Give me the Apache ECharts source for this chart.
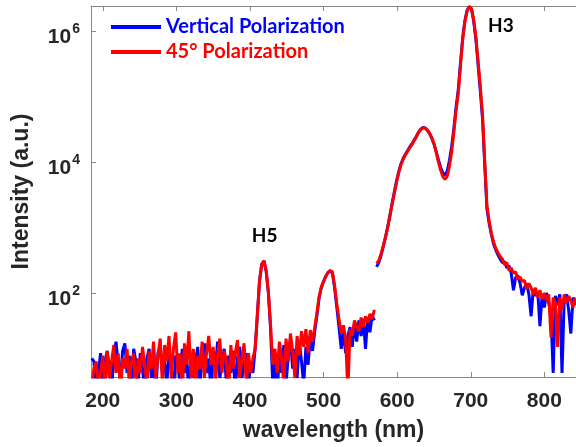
<!DOCTYPE html>
<html><head><meta charset="utf-8">
<script src="https://cdn.jsdelivr.net/npm/echarts@6/dist/echarts.min.js"></script>
<style>html,body{margin:0;padding:0;background:#fff}#c{width:576px;height:447px}</style>
</head><body><div id="c"></div>
<script>
// Segment 1 (short-wavelength spectrometer window)
const wavelength1 = [185,188,191,194,197,200,203,206,209,212,215,218,221,224,227,230,233,236,239,242,245,248,251,254,257,260,263,266,269,272,275,278,281,284,287,290,293,296,299,302,305,308,311,314,317,320,323,326,329,332,335,338,341,344,347,350,353,356,359,362,365,368,371,374,377,380,383,386,389,392,395,398,401,404,407,410,413,416,419,422,425,428,431,434,437,440,443,446,449,452,455,458,461,464,467,470,473,476,479,482,485,488,491,494,497,500,503,506,509,512,515,518,521,524,527,530,533,536,539,542,545,548,551,554,557,560,563,566,569];
const vertical1 = [10,9,3,6,12,4,9,13,7,3,12,18,8,5,13,17,6,11,3,14,9,4,12,7,3,10,14,5,9,3,12,16,6,9,4,13,7,3,11,8,4,14,6,10,3,12,5,9,15,4,11,17,6,10,3,13,7,18,5,9,14,4,11,6,13,3,10,15,5,8,12,4,9,6,14,45,155,275,305,215,100,28,4,9,3,12,6,16,4,11,20,7,14,5,18,9,4,15,8,22,13,26,45,85,120,150,180,205,218,200,120,60,30,14,26,12,22,30,15,35,18,38,22,40,14,42,25,45,38];
const pol45_1 = [4,7,9,4,6,11,3,13,5,9,16,6,12,3,10,7,14,4,9,12,3,10,6,15,8,4,13,7,18,5,11,20,4,16,9,22,5,14,25,6,12,3,17,8,26,5,14,3,11,7,18,5,12,22,8,15,4,11,20,6,13,9,3,16,7,12,19,5,10,17,4,12,6,10,14,45,150,270,311,220,105,32,8,14,6,18,10,4,20,9,24,13,5,22,11,26,15,28,12,27,18,30,50,88,125,148,178,205,219,210,130,68,40,24,32,20,3,28,22,38,30,26,42,30,44,35,48,40,55];
// Segment 2 (long-wavelength spectrometer window)
const wavelength2 = [572,575,578,581,584,587,590,593,596,599,602,605,608,611,614,617,620,623,626,629,632,635,638,641,644,647,650,653,656,659,662,665,668,671,674,677,680,683,686,689,692,695,698,701,704,707,710,713,716,719,722,725,728,731,734,737,740,743,746,749,752,755,758,761,764,767,770,773,776,779,782,785,788,791,794,797,800,803,806,809,812,815,818,821,824,827,830,833,836,839,842];
const vertical2 = [250,290,370,500,700,1000,1500,2300,3400,5000,7000,9200,11200,13000,14800,16800,18800,21500,24500,28500,31500,33500,33000,30500,27000,23000,18800,14500,10800,8300,6800,6300,7200,10500,17000,32000,68000,125000,320000,780000,1420000,2050000,2350000,2150000,1400000,740000,300000,120000,45000,9000,1900,1150,780,560,450,380,330,290,300,240,260,200,110,170,185,140,92,120,140,95,44,115,90,105,31,95,60,100,70,45,6,90,65,95,6,80,95,55,24,85,65];
const pol45_2 = [280,310,390,520,700,980,1450,2200,3250,4800,6800,8900,10800,12600,14300,16300,18300,21000,24000,28000,31000,33000,33000,30800,27500,23500,19000,14000,10000,7500,6000,5400,6000,8500,14000,28000,60000,110000,290000,730000,1380000,2020000,2350000,2200000,1480000,800000,340000,140000,52000,10000,2100,1250,820,600,480,410,360,330,270,290,220,240,200,210,160,175,150,155,115,140,120,95,120,85,110,80,100,75,95,21,85,70,15,85,55,95,70,90,75,60,85];
const seriesNames = ['Vertical Polarization', '45° Polarization'];
const xTickLabels = ['200','300','400','500','600','700','800'];
const yTickExponents = [2, 4, 6];

function pairs(xs, ys) { return xs.map((x, i) => [x, ys[i]]); }
const gapX = (wavelength1[wavelength1.length - 1] + wavelength2[0]) / 2;
const dataV = pairs(wavelength1, vertical1).concat([[gapX, null]], pairs(wavelength2, vertical2));
const dataR = pairs(wavelength1, pol45_1).concat([[gapX, null]], pairs(wavelength2, pol45_2));

const AX = '#262626';
const FF = '"Liberation Sans", Arial, sans-serif';
const chart = echarts.init(document.getElementById('c'), null, {renderer: 'canvas'});
chart.setOption({
  animation: false,
  backgroundColor: '#fff',
  grid: {left: 91, right: 0, top: 6, bottom: 70, containLabel: false},
  legend: {
    orient: 'vertical', left: 111, top: 17, padding: 0, itemWidth: 50, itemHeight: 4, itemGap: 5, icon: 'rect',
    textStyle: {fontSize: 20, fontWeight: 'bold', fontFamily: 'Lato'},
    data: [
      {name: seriesNames[0], textStyle: {color: '#0000ff'}},
      {name: seriesNames[1], textStyle: {color: '#ff0000'}}
    ]
  },
  xAxis: [{
    type: 'value', min: 184, max: 843, splitNumber: 7,
    name: 'wavelength (nm)', nameLocation: 'middle', nameGap: 42,
    nameTextStyle: {fontSize: 23, fontWeight: 'bold', color: AX, fontFamily: FF},
    axisLine: {lineStyle: {color: '#888', width: 1}},
    axisTick: {inside: true, length: 5, lineStyle: {color: '#888'}},
    axisLabel: {
      margin: 14, fontSize: 21, fontWeight: 'bold', color: AX, fontFamily: FF,
      showMinLabel: false, showMaxLabel: false,
      formatter: v => xTickLabels.indexOf(String(v)) >= 0 ? String(v) : ''
    },
    splitLine: {show: false}
  }, {
    type: 'value', position: 'top', min: 184, max: 843, splitNumber: 7,
    axisLine: {lineStyle: {color: '#888', width: 1}},
    axisTick: {inside: true, length: 5, lineStyle: {color: '#888'}},
    axisLabel: {show: false}, splitLine: {show: false}
  }],
  yAxis: {
    type: 'log', logBase: 100, min: 5.2, max: 2.4e6,
    name: 'Intensity (a.u.)', nameLocation: 'middle', nameGap: 58,
    nameTextStyle: {fontSize: 23, fontWeight: 'bold', color: AX, fontFamily: FF},
    axisLine: {show: true, lineStyle: {color: '#888', width: 1}},
    axisTick: {inside: true, length: 5, lineStyle: {color: '#888'}},
    axisLabel: {
      margin: 11, showMinLabel: false, showMaxLabel: false,
      formatter: v => {
        const e = Math.log10(v), r = Math.round(e);
        if (Math.abs(e - r) > 1e-6 || yTickExponents.indexOf(r) < 0) return '';
        return '{b|10}{s|' + r + '}';
      },
      rich: {
        b: {fontSize: 21, fontWeight: 'bold', color: AX, fontFamily: FF, padding: [12, 0, 0, 0]},
        s: {fontSize: 14, fontWeight: 'bold', color: AX, fontFamily: FF, padding: [0, 0, 4, 1]}
      }
    },
    splitLine: {show: false}
  },
  series: [{
    name: seriesNames[0], type: 'line', data: dataV, showSymbol: false, symbol: 'none',
    lineStyle: {color: '#0000ff', width: 3}, itemStyle: {color: '#0000ff'}, clip: true
  }, {
    name: seriesNames[1], type: 'line', data: dataR, showSymbol: false, symbol: 'none',
    lineStyle: {color: '#ff0000', width: 3}, itemStyle: {color: '#ff0000'}, clip: true,
    markPoint: {
      symbol: 'circle', symbolSize: 1, itemStyle: {color: 'rgba(0,0,0,0)'},
      label: {show: true, position: 'inside', formatter: p => p.name, color: '#000', fontWeight: 'bold', fontSize: 19, fontFamily: 'Lato'},
      data: [{name: 'H5', coord: [420, 740]}, {name: 'H3', coord: [741, 1.2e6]}]
    }
  }]
});
</script></body></html>
